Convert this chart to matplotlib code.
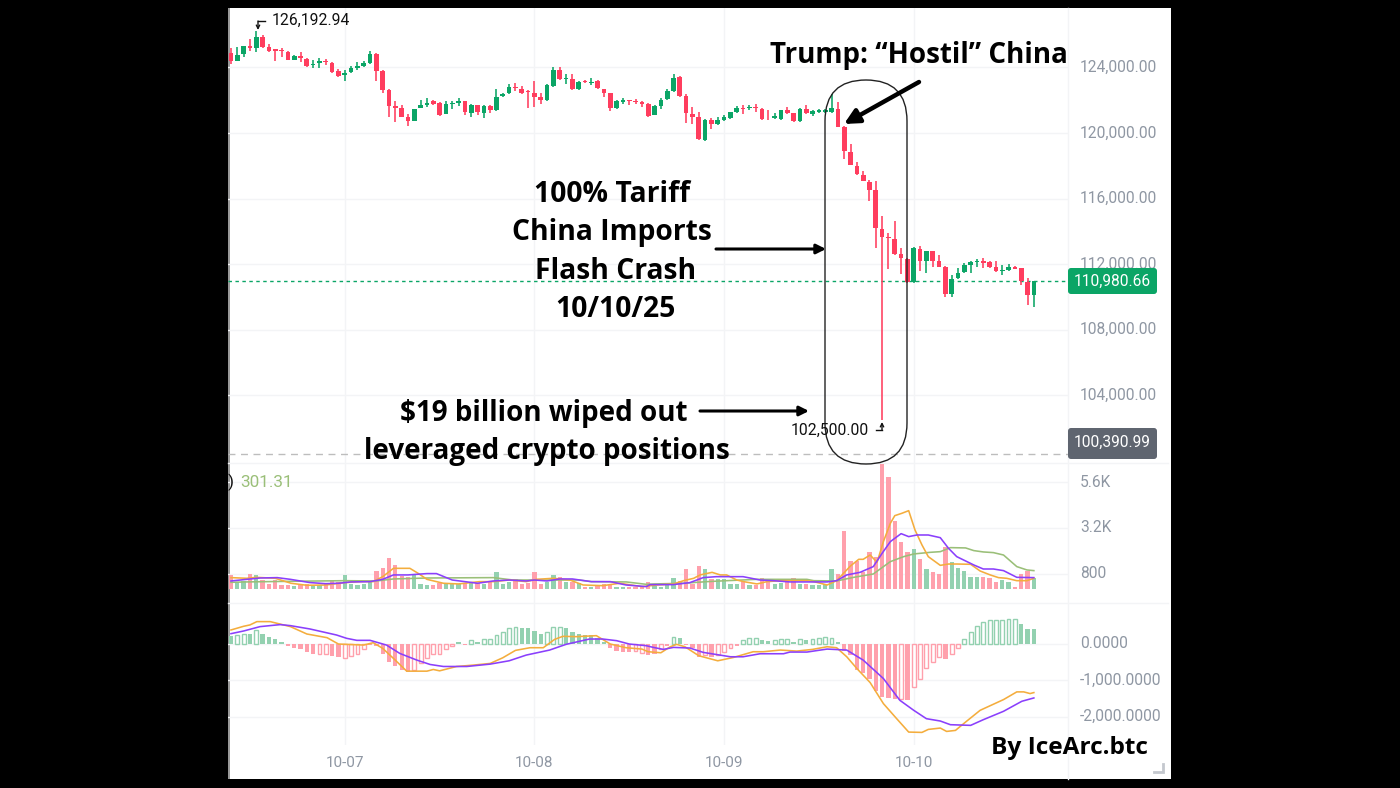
import matplotlib
matplotlib.use("Agg")
import matplotlib.pyplot as plt
from matplotlib.patches import FancyBboxPatch, Rectangle
from matplotlib.transforms import ScaledTranslation

# ===============================
# candles
# ===============================
opens = [124880,124370,124810,125320,125160,125870,125220,125100,125060,124920,124470,124710,124530,124140,124250,124390,
         124290,123760,123510,123700,123940,124100,124270,124810,123780,122640,121660,121500,120990,120730,121520,121700,
         121930,121830,121160,121740,121850,121930,121220,121720,121240,121660,121420,122230,122420,122800,122680,122560,
         122440,122190,121990,122860,123840,123270,123310,122700,123150,123070,123170,122700,122440,121500,121890,121990,
         121950,121890,121770,121070,121640,122050,122560,123410,122250,121140,120970,119570,120790,120530,120790,120930,
         121300,121500,121500,121580,121480,120870,120890,120870,121400,121220,120710,121480,121180,121300,121300,121300,
         121480,120380,118860,117980,117460,117030,116520,114160,113670,113550,112600,112330,110910,112940,112210,112780,
         112190,111840,110180,111150,111500,111920,112130,112210,112130,111840,111580,111640,111840,111740,110930,110120]
closes = [124370,124770,125320,125160,125870,125220,125020,125020,125000,124470,124710,124550,124100,124200,124370,124330,
          123740,123490,123680,123940,124100,124290,124810,123800,122620,121660,121520,120990,120750,121460,121720,121850,
          121790,121110,121740,121830,121930,121260,121700,121260,121640,121420,122170,122380,122820,122720,122440,122520,
          122210,121990,122900,123840,123310,123330,122700,123130,123110,123130,122720,122460,121500,121950,122010,121930,
          121870,121770,121030,121660,122010,122540,123370,122250,121200,120990,119650,120790,120530,120790,120990,121280,
          121520,121440,121600,121520,120870,120830,121030,121400,121240,120710,121480,121200,121320,121380,121400,121500,
          120380,118900,118020,117520,117050,116540,114200,113670,113570,112620,112350,110910,112960,112210,112780,112210,
          111840,110180,111110,111480,111920,112130,112210,112090,111820,111580,111640,111840,111720,110970,110120,110981]
highs = [125160,125220,125320,125730,126193,125990,125420,125120,125160,124980,124770,124920,124550,124470,124550,124490,
         124310,123900,123840,124080,124310,124370,124980,124880,123840,122680,121930,121700,121160,121460,122010,122110,
         122030,121870,121930,121970,122110,121970,121740,121720,121680,121720,122680,122460,122980,123070,122880,122620,
         123150,122420,122970,124020,124020,123570,123570,123170,123230,123370,123230,122700,122460,122010,122130,122010,
         122050,121950,121850,121680,122150,122700,123570,123470,122360,121600,121280,120870,120930,120990,121070,121300,
         121640,121680,121700,121750,121500,121420,121200,121420,121600,121240,121520,121680,121400,121440,121440,122360,
         121910,120420,119310,118250,117680,117130,117050,114930,113920,114630,112960,112350,113040,113100,112800,112800,
         112530,111900,111310,111740,112090,112210,112290,112350,112190,112190,111920,112030,111860,111760,111130,110981]
lows = [124200,124370,124650,124980,124920,125160,124920,124370,124650,124450,124470,124310,124000,123940,123940,124140,
        123680,123430,123150,123660,123840,124040,124200,123150,122440,120990,120650,120950,120440,120730,121520,121600,
        121700,121030,121130,121440,121660,121110,120990,121110,120890,121220,121360,122170,122380,122580,122380,121500,
        121560,121750,121930,122820,123230,122970,122620,122620,123070,122900,122700,122190,121320,121480,121750,121680,
        121750,121600,120970,121070,121480,122010,122520,122210,120630,120570,119570,119490,120220,120460,120730,120870,
        121240,121180,121400,121300,120790,120790,120870,120790,121140,120690,120690,121140,121030,121200,121240,121240,
        120380,118390,118020,117410,117050,115850,112980,102500,111680,112530,111380,110870,110870,111580,111480,111840,
        111820,110010,110010,111110,111480,111480,111820,111760,111760,111540,111310,111560,111680,110730,109490,109400]

# ===============================
# volume
# ===============================
volumes = [750,400,450,820,750,490,280,490,225,225,190,225,280,190,225,315,490,400,750,280,225,280,400,955,1115,1635,
           1270,715,645,750,280,225,225,315,315,280,280,315,400,315,280,400,885,280,365,520,280,315,885,280,400,750,625,
           400,400,315,105,140,225,280,225,140,140,140,140,140,380,175,120,210,590,435,1045,280,1200,1045,520,520,520,280,
           280,380,210,225,590,380,280,315,450,610,280,280,210,225,260,1045,800,3045,1480,1495,920,1950,1705,6540,5880,
           3565,2455,1950,2090,1565,1045,885,820,2190,1410,1130,955,660,660,660,590,380,490,365,140,800,955,590]

ma5_i = [0,2.5,4,7,9.5,12,15,18,20.5,22.5,24,25.7,28.3,29.6,31,33.6,36,39.3,41.5,44,46.7,48.3,51,53.6,55.7,58.8,61.5,65,
         67.4,70,71.6,73.2,74.2,76.1,77.4,78.4,80,81.1,83.2,84.8,86.9,91.1,92.2,94.3,95.8,98,99.3,100,101.1,102.2,103.2,
         104.3,105,106.1,107.2,108.2,109.3,110.3,112.2,113.5,114.8,117,118.5,120.1,121.4,122.7,124.3,125.9,127]
ma5_v = [610,575,625,575,315,210,225,350,400,400,660,1095,1095,835,520,315,280,400,400,485,400,520,575,485,225,190,315,140,
         225,280,450,575,750,885,750,750,485,400,280,400,450,450,400,225,450,1220,1565,1565,1790,1410,2490,
         3445,3845,3965,4105,3095,2315,1705,1250,1320,1320,1305,955,750,610,575,450,450,575]
ma10_i = [0,2.5,4.6,7.3,9.4,12.5,15,17,19,22,24,25.7,28,31,32.5,35,39,41.5,44,46.7,48,50,52,54,57,60,62.5,65.7,
          66.3,70,72.6,74.7,76.8,81,83.7,85.8,88.4,94.3,95.8,97.4,99.5,101.6,103,104.3,106,107.2,108.5,110.3,112.2,113.5,
          114.8,117.5,119,120.6,122.2,124.3,127]
ma10_v = [435,520,590,610,520,350,295,315,385,400,520,750,750,820,820,485,315,435,485,435,485,435,540,540,400,400,225,140,
          245,245,350,610,660,660,485,450,385,385,450,750,885,1185,1880,2490,2905,2750,2835,2835,2695,2140,
          1705,1270,1060,1060,975,625,610]
ma20_i = [0,2.5,10,18,23,25.7,31,41.5,44.6,48,52,55,57,62.5,65.7,67,71.6,75.3,78.4,83.2,91.1,92.2,95.8,98.5,101.6,104.3,
          106.4,108,110.6,112.2,113.8,116.2,117.5,119,120.6,122.2,124.3,125.9,127]
ma20_v = [365,385,420,450,435,540,590,610,485,485,485,485,400,385,260,280,315,400,450,520,520,450,435,625,800,1445,
          1705,1845,1930,1965,2175,2160,2020,1950,1915,1790,1185,1010,975]

# ===============================
# macd
# ===============================
hist = [210,238,266,266,367,266,193,119,37,-73,-110,-147,-220,-275,-275,-275,-339,-376,-403,-330,-284,-156,-46,-73,-275,
        -495,-624,-724,-770,-724,-541,-403,-284,-284,-156,-73,46,-28,92,37,119,119,238,321,440,468,431,431,348,266,330,468,
        468,431,312,266,238,238,147,55,-128,-202,-220,-220,-193,-248,-312,-293,-156,-55,174,147,-28,-110,-358,-312,-358,
        -312,-238,-128,-55,92,165,165,110,73,92,128,119,37,119,110,119,165,174,165,46,-193,-312,-724,-816,-954,-1293,-1458,
        -1486,-1522,-1513,-1531,-1183,-972,-679,-514,-358,-422,-284,-128,119,330,477,605,642,642,642,669,679,541,394,394]
hollow = [1,2,4,14,15,18,19,20,21,29,30,31,32,33,34,35,38,40,41,42,43,44,45,50,51,52,64,65,68,70,75,77,78,79,81,82,83,86,87,
          88,90,92,93,94,95,106,108,109,110,111,112,114,115,116,117,118,119,120,121,122,123,124]

dif_i = [0,2,3,4.1,6.2,9.4,12,15.2,17,21,22.5,24,25.7,27.8,31,32,33,35.7,38.3,41,43,45,47.3,49.4,51.2,52.5,54.6,57.8,60,62.5,65,
         66,68,69.5,70.5,71.8,74,77,79.5,82.6,84.2,86.9,89.5,92,94.3,95.8,97.4,99,101.1,103.2,105.3,107.2,109.3,110.3,112.2,
         113.2,114.6,116.2,118.5,122.2,124.3,125.4,126.4,127]
dif_v = [376,477,514,605,605,468,266,165,-9,-37,28,-128,-403,-752,-752,-706,-743,-624,-587,-541,-385,-183,-110,-110,119,202,193,220,-9,-110,-147,
         -220,-248,-83,-18,-83,-330,-468,-376,-220,-220,-174,-202,-156,-83,-110,-358,-679,-1064,-1641,-2054,-2421,-2430,-2348,-2311,
         -2403,-2375,-2146,-1825,-1531,-1320,-1320,-1366,-1339]
dea_i = [0,2,4.6,7.8,9.4,12.5,16.7,18.3,19.9,22,24.6,26.7,29.4,31.5,33.6,37.3,41,44,46.7,50.4,53,56.7,58.8,61,63,65.7,
         66.8,68.4,70,72.6,74.7,79,81,83.7,87.4,88.4,91.1,94.3,97.4,100,103.2,105.8,108,110,112.2,113.8,117,119,122.2,125.1,127]
dea_v = [275,348,468,523,495,403,238,147,92,92,-37,-266,-449,-569,-624,-624,-559,-468,-312,-174,-18,128,128,83,-9,-55,
         -101,-156,-101,-119,-238,-358,-358,-275,-275,-229,-229,-147,-174,-449,-954,-1550,-1825,-2054,-2118,-2219,-2237,-2082,-1852,-1577,-1486]

date_ticks = [18, 48, 78, 108]
date_labels = ["10-07", "10-08", "10-09", "10-10"]
price_ticks = [124000, 120000, 116000, 112000, 108000, 104000]
vol_ticks = [800, 3200, 5600]
vol_labels = ["800", "3.2K", "5.6K"]
macd_ticks = [0, -1000, -2000]
macd_labels = ["0.0000", "-1,000.0000", "-2,000.0000"]

RED = "#ff3d5e"
GREEN = "#0ba566"
RED_L = "#ffa0ac"
GREEN_L = "#93d1b0"
ORANGE = "#f4ad3d"
PURPLE = "#8a3ffc"
OLIVE = "#9abf78"
GRID = "#f3f4f6"
TICK = "#8f97a3"

plt.rcParams["font.family"] = ["Roboto", "DejaVu Sans"]
W, H = 1400, 788
fig = plt.figure(figsize=(14, 7.88), dpi=100, facecolor="black")


def box(x0, y0, x1, y1, z=1):
    return fig.add_axes([x0 / W, 1 - y1 / H, (x1 - x0) / W, (y1 - y0) / H], zorder=z)


# white sheet and panel separators, in pixels
bg = box(0, 0, W, H, 0)
bg.set_xlim(0, W)
bg.set_ylim(H, 0)
bg.axis("off")
bg.add_patch(Rectangle((228, 8), 943, 771, fc="white", ec="none"))
bg.add_patch(Rectangle((228, 8), 1.5, 771, fc="#9a9a9a", ec="none"))
bg.plot([1068, 1068], [8, 779], color=GRID, lw=1)
bg.plot([228, 1168], [463, 463], color=GRID, lw=1)
bg.plot([228, 1168], [603, 603], color=GRID, lw=1)

ax_p = box(228, 8, 1068, 463)
ax_v = box(228, 463, 1068, 603)
ax_m = box(228, 603, 1068, 745)
for ax in (ax_p, ax_v, ax_m):
    ax.set_xlim(-0.47, 132.4)
    ax.patch.set_alpha(0)
    for s in ax.spines.values():
        s.set_visible(False)
    ax.set_xticks(date_ticks)
    ax.grid(True, color=GRID, lw=1)
    ax.set_axisbelow(True)
    ax.yaxis.tick_right()
    ax.tick_params(axis="y", length=0, pad=8.6, labelsize=11.2, labelcolor=TICK)
    ax.tick_params(axis="x", length=0, labelbottom=False)

# price
ax_p.set_ylim(99872, 127616)
ax_p.set_yticks(price_ticks)
ax_p.set_yticklabels([f"{t:,.2f}" for t in price_ticks])
for i in range(len(opens)):
    c = GREEN if closes[i] >= opens[i] else RED
    ax_p.plot([i, i], [lows[i], highs[i]], color=c, lw=1.15, solid_capstyle="butt", zorder=3)
    ax_p.bar(i, abs(closes[i] - opens[i]), bottom=min(opens[i], closes[i]), width=0.74, color=c, zorder=4)
ax_p.axhline(closes[-1], color=GREEN, lw=1, ls=(0, (2.5, 2.5)), zorder=2)
ax_p.axhline(100390.99, color="#bdbdbd", lw=1, ls=(0, (5, 4)), zorder=2)

# volume
ax_v.set_ylim(-715, 6593)
ax_v.set_yticks(vol_ticks)
ax_v.set_yticklabels(vol_labels)
vol_colors = [GREEN_L if closes[i] >= opens[i] else RED_L for i in range(len(volumes))]
ax_v.bar(range(len(volumes)), volumes, width=0.68, color=vol_colors, zorder=2)
ax_v.plot(ma20_i, ma20_v, color=OLIVE, lw=1.15, zorder=3)
ax_v.plot(ma5_i, ma5_v, color=ORANGE, lw=1.15, zorder=4)
ax_v.plot(ma10_i, ma10_v, color=PURPLE, lw=1.15, zorder=5)

# macd
ax_m.set_ylim(-2775, 1115)
ax_m.set_yticks(macd_ticks)
ax_m.set_yticklabels(macd_labels)
ax_m.set_xticks(date_ticks)
ax_m.set_xticklabels(date_labels)
ax_m.tick_params(axis="x", labelbottom=True, length=0, pad=8.2, labelsize=11, labelcolor=TICK)
for i, v in enumerate(hist):
    c = GREEN_L if v >= 0 else RED_L
    if i in hollow:
        ax_m.bar(i, v, width=0.6, facecolor="white", edgecolor=c, lw=1, zorder=2)
    else:
        ax_m.bar(i, v, width=0.68, color=c, zorder=2)
ax_m.plot(dif_i, dif_v, color=ORANGE, lw=1.15, zorder=3)
ax_m.plot(dea_i, dea_v, color=PURPLE, lw=1.15, zorder=4)

# labels sit a bit above their gridlines in the original
nudge = ScaledTranslation(0, 1.5 / 100, fig.dpi_scale_trans)
for ax in (ax_p, ax_v, ax_m):
    for lab in ax.get_yticklabels():
        lab.set_transform(lab.get_transform() + nudge)

# overlay for the labels and the hand drawn notes, in pixels
ov = box(0, 0, W, H, 10)
ov.set_xlim(0, W)
ov.set_ylim(H, 0)
ov.axis("off")

ov.add_patch(FancyBboxPatch((1068, 268), 89, 26, boxstyle="round,pad=0,rounding_size=3", fc=GREEN, ec="none"))
ov.text(1112.5, 281.5, "110,980.66", color="white", fontsize=11.2, ha="center", va="center")
ov.add_patch(FancyBboxPatch((1068, 428), 89, 31, boxstyle="round,pad=0,rounding_size=3", fc="#5f6570", ec="none"))
ov.text(1112.5, 442, "100,390.99", color="white", fontsize=11.2, ha="center", va="center")

ov.text(272, 20, "126,192.94", color="#111111", fontsize=11.3, ha="left", va="center")
ov.plot([265, 258], [21, 21], color="#111111", lw=1)
ov.annotate("", xy=(258, 30), xytext=(258, 21), arrowprops=dict(arrowstyle="->", color="#111111", lw=1, shrinkA=0, shrinkB=0, mutation_scale=6))
ov.text(791, 430, "102,500.00", color="#111111", fontsize=11.3, ha="left", va="center")
ov.plot([876, 882], [430, 430], color="#111111", lw=1)
ov.annotate("", xy=(882, 422), xytext=(882, 430), arrowprops=dict(arrowstyle="->", color="#111111", lw=1, shrinkA=0, shrinkB=0, mutation_scale=6))

ov.text(228, 482, ")", color="#111111", fontsize=12.3, ha="left", va="center")
ov.text(240, 482, "301.31", color=OLIVE, fontsize=12.3, ha="left", va="center")

ov.add_patch(FancyBboxPatch((825, 80), 82, 384, boxstyle="round,pad=0,rounding_size=41", fc="none", ec="#222222", lw=1))

NOTE = dict(family="Open Sans", weight="bold", color="black", ha="center", va="center")
ov.text(919, 55, "Trump: “Hostil” China", fontsize=20, **NOTE)
ov.text(612, 194.5, "100% Tariff", fontsize=20.3, **NOTE)
ov.text(612, 232.5, "China Imports", fontsize=20.3, **NOTE)
ov.text(615.5, 271.5, "Flash Crash", fontsize=20.3, **NOTE)
ov.text(615, 309.5, "10/10/25", fontsize=20.3, **NOTE)
ov.text(544, 413.5, "$19 billion wiped out", fontsize=20, **NOTE)
ov.text(547, 451.5, "leveraged crypto positions", fontsize=20, **NOTE)
ov.text(1069, 748, "By IceArc.btc", fontsize=17.6, **NOTE)

ARROW = dict(arrowstyle="-|>", color="black", shrinkA=0, shrinkB=0)
ov.annotate("", xy=(844, 124), xytext=(919, 82), arrowprops=dict(lw=3.2, mutation_scale=22, **ARROW))
ov.annotate("", xy=(826, 249), xytext=(716, 249), arrowprops=dict(lw=2.2, mutation_scale=14, **ARROW))
ov.annotate("", xy=(809, 411), xytext=(700, 411), arrowprops=dict(lw=2.2, mutation_scale=14, **ARROW))

# resize grip
ov.plot([1154, 1163, 1163], [772, 772, 764], color="#c4c8ce", lw=2, solid_joinstyle="miter")

plt.savefig("out.png", dpi=100, facecolor="black")
